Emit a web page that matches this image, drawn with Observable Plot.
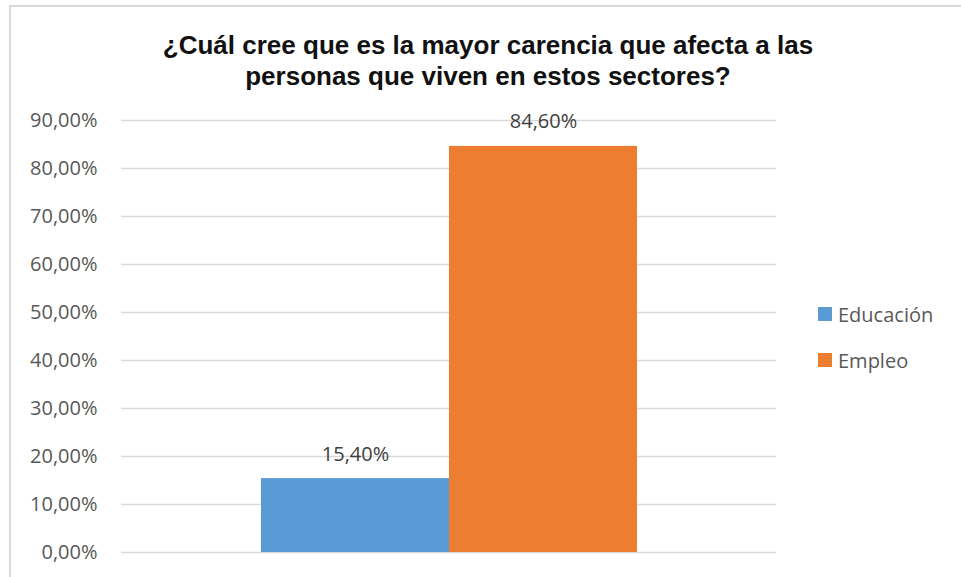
<!DOCTYPE html>
<html>
<head>
<meta charset="utf-8">
<script src="https://cdn.jsdelivr.net/npm/d3@7"></script>
<script src="https://cdn.jsdelivr.net/npm/@observablehq/plot@0.6"></script>
<style>
  html, body { margin: 0; padding: 0; background: #fff; }
  #wrap { position: relative; width: 961px; height: 577px; overflow: hidden; background: #fff; }
  #frame { position: absolute; left: 9px; top: 5px; width: 960px; height: 600px;
           border-left: 2px solid #d9d9d9; border-top: 2px solid #d9d9d9; box-sizing: border-box; }
  #title { position: absolute; left: 138px; width: 700px; top: 30px; text-align: center;
           font-family: "Liberation Sans", Arial, sans-serif; font-weight: bold; font-size: 26px;
           line-height: 31px; color: #111; white-space: nowrap; }
  #chart { position: absolute; left: 0; top: 0; }
  #legend { position: absolute; left: 818px; top: 300px; font-family: "Open Sans", sans-serif;
            font-size: 20px; color: #595959; }
  .item { display: flex; align-items: center; height: 28px; margin-bottom: 18px; }
  .sw { width: 14px; height: 14px; margin-right: 6px; }
</style>
</head>
<body>
<div id="wrap">
  <div id="frame"></div>
  <div id="chart"></div>
  <div id="title">¿Cuál cree que es la mayor carencia que afecta a las<br>personas que viven en estos sectores?</div>
  <div id="legend"></div>
</div>
<script>
const categories = ["Educación", "Empleo"];
const values = [0.154, 0.846];
const colors = ["#5B9BD5", "#ED7D31"];
const yTicks = [0, 0.1, 0.2, 0.3, 0.4, 0.5, 0.6, 0.7, 0.8, 0.9];

const data = categories.map((c, i) => ({category: c, value: values[i]}));
const fmt = v => (v * 100).toFixed(2).replace(".", ",") + "%";

const chart = Plot.plot({
  width: 961,
  height: 577,
  marginLeft: 121,
  marginRight: 185,
  marginTop: 120,
  marginBottom: 25,
  style: {fontFamily: "'Open Sans', sans-serif", fontSize: "20px", color: "#595959", background: "transparent"},
  x: {domain: categories, paddingInner: 0, paddingOuter: 0.742, axis: null},
  y: {domain: [0, 0.9], ticks: yTicks, tickFormat: fmt, tickSize: 0, tickPadding: 24, label: null},
  color: {domain: categories, range: colors},
  marks: [
    Plot.ruleY(yTicks, {stroke: "#d9d9d9", strokeWidth: 1.5}),
    Plot.barY(data, {x: "category", y: "value", fill: "category"}),
    Plot.text(data, {x: "category", y: "value", text: d => fmt(d.value), lineAnchor: "bottom", dy: -18,
                     fontSize: 20, fill: "#404040"})
  ]
});
document.getElementById("chart").appendChild(chart);

const legend = document.getElementById("legend");
categories.forEach((c, i) => {
  const item = document.createElement("div");
  item.className = "item";
  const sw = document.createElement("div");
  sw.className = "sw";
  sw.style.background = colors[i];
  const t = document.createElement("span");
  t.textContent = c;
  item.appendChild(sw);
  item.appendChild(t);
  legend.appendChild(item);
});
</script>
</body>
</html>
